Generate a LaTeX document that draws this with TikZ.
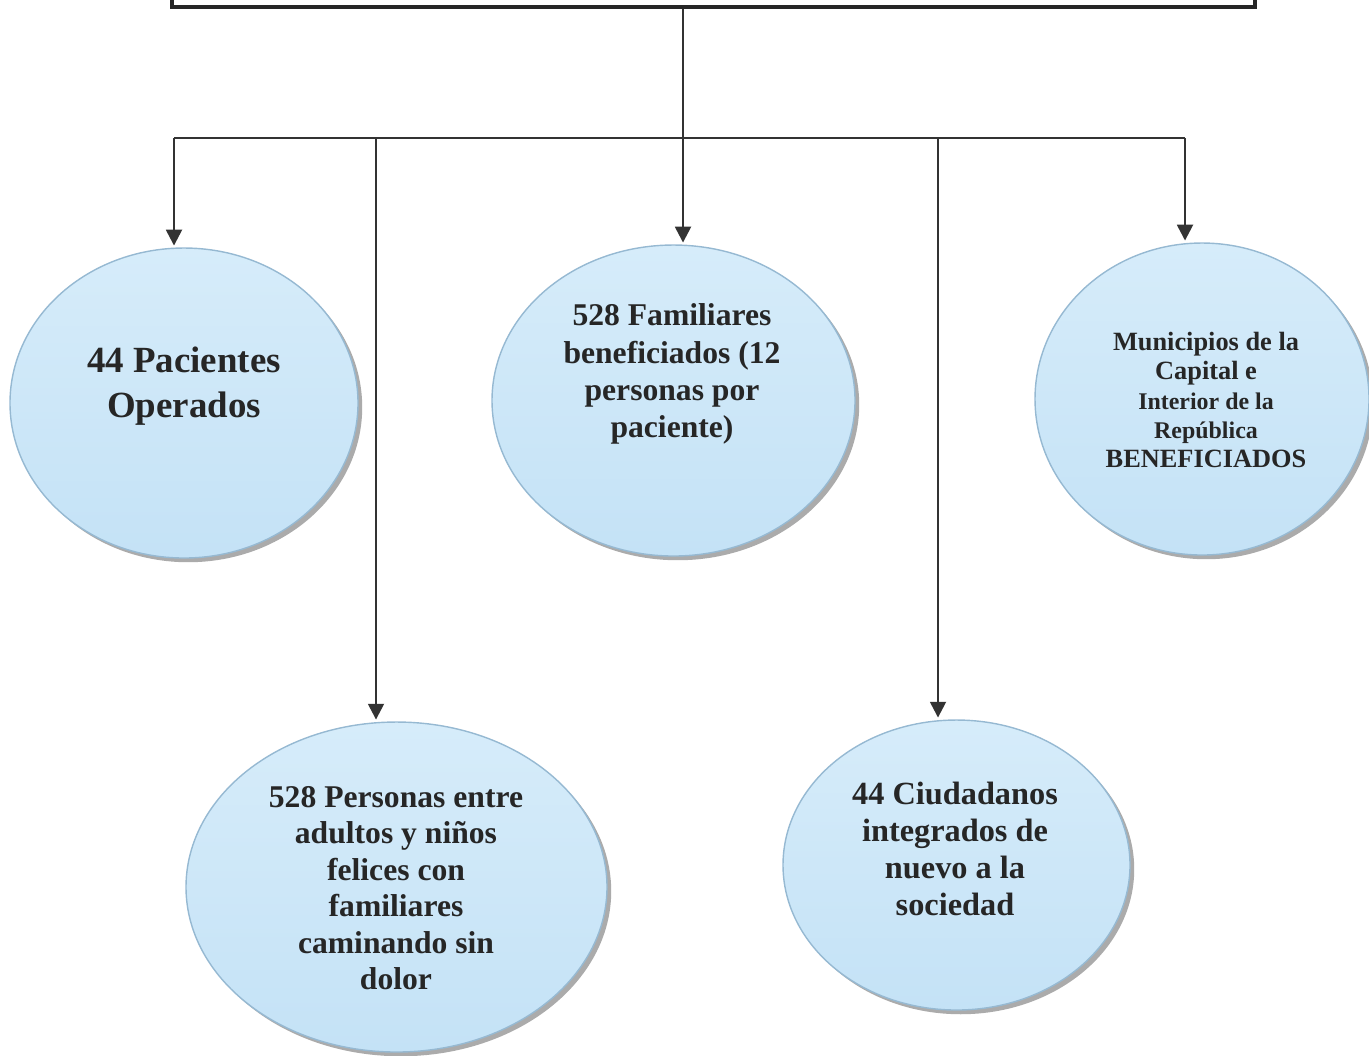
\documentclass[tikz,border=0pt]{standalone}
\usepackage{fontspec}
\setmainfont{Liberation Serif}
\usepackage{tikz}
\usetikzlibrary{arrows.meta,shapes,shadows,positioning}

\definecolor{bubtop}{RGB}{214,236,250}
\definecolor{bubbot}{RGB}{196,226,246}
\definecolor{bubrim}{RGB}{150,185,210}

\begin{document}
\begin{tikzpicture}
          \tikzstyle{bubble}=[ellipse,draw=bubrim,thin,top color=bubtop,bottom color=bubbot,
            drop shadow={shadow xshift=1.2pt,shadow yshift=-1.2pt,fill=black!60,opacity=0.55}]
          \tikzstyle{txt}=[align=center,font=\bfseries,text=black!85]
          \tikzstyle{topbox}=[rectangle,draw=black!85,line width=1pt,fill=white,minimum width=10.83cm,minimum height=0.4cm]
          \tikzstyle{conn}=[draw=black!80,line width=0.7pt]
          \tikzstyle{feed}=[conn,-{Triangle[width=4.5pt,length=4.5pt]}]

          \useasboundingbox (0,0) rectangle (13.69,-10.55);

          \node[topbox](root) at (7.135,0.13){};

          % circles
          \node[bubble,minimum width=3.48cm,minimum height=3.10cm](pac) at (1.84,-4.03){};
          \node[bubble,minimum width=3.63cm,minimum height=3.11cm](fam) at (6.735,-4.005){};
          \node[bubble,minimum width=3.34cm,minimum height=3.12cm](mun) at (12.02,-3.99){};
          \node[bubble,minimum width=4.21cm,minimum height=3.30cm](per) at (3.965,-8.87){};
          \node[bubble,minimum width=3.47cm,minimum height=2.90cm](ciu) at (9.565,-8.65){};

          \node[txt,font=\bfseries\fontsize{10.5}{12.8}\selectfont](pacT) at (1.84,-3.86)
            {44 Pacientes\\Operados};
          \node[txt,font=\bfseries\fontsize{9}{10.6}\selectfont](famT) at (6.72,-3.74)
            {528 Familiares\\beneficiados (12\\personas por\\paciente)};
          \node[txt,font=\bfseries\fontsize{7.5}{8.3}\selectfont](munT) at (12.06,-4.00)
            {Municipios de la\\Capital e\\{\fontsize{6.8}{8.3}\selectfont Interior de la}\\{\fontsize{6.8}{8.3}\selectfont Rep\'ublica}\\BENEFICIADOS};
          \node[txt,font=\bfseries\fontsize{9}{10.4}\selectfont](perT) at (3.96,-8.88)
            {528 Personas entre\\adultos y ni\~nos\\felices con\\familiares\\caminando sin\\dolor};
          \node[txt,font=\bfseries\fontsize{9.2}{10.5}\selectfont](ciuT) at (9.55,-8.49)
            {44 Ciudadanos\\integrados de\\nuevo a la\\sociedad};

          % bus
          \coordinate (j) at (6.83,-1.38);
          \coordinate (b1) at (1.74,-1.38);
          \coordinate (b2) at (3.76,-1.38);
          \coordinate (b4) at (9.38,-1.38);
          \coordinate (b5) at (11.85,-1.38);

          \path[conn] (root.south -| j) -- (j);
          \path[conn] (b1) -- (b5);

          \path
            (b1) edge[feed] ([yshift=0.5pt]b1 |- pac.north)
            (b2) edge[feed] ([yshift=0.5pt]b2 |- per.north)
            (j) edge[feed] ([yshift=0.5pt]j |- fam.north)
            (b4) edge[feed] ([yshift=0.5pt]b4 |- ciu.north)
            (b5) edge[feed] ([yshift=0.5pt]b5 |- mun.north);
        \end{tikzpicture}
\end{document}
